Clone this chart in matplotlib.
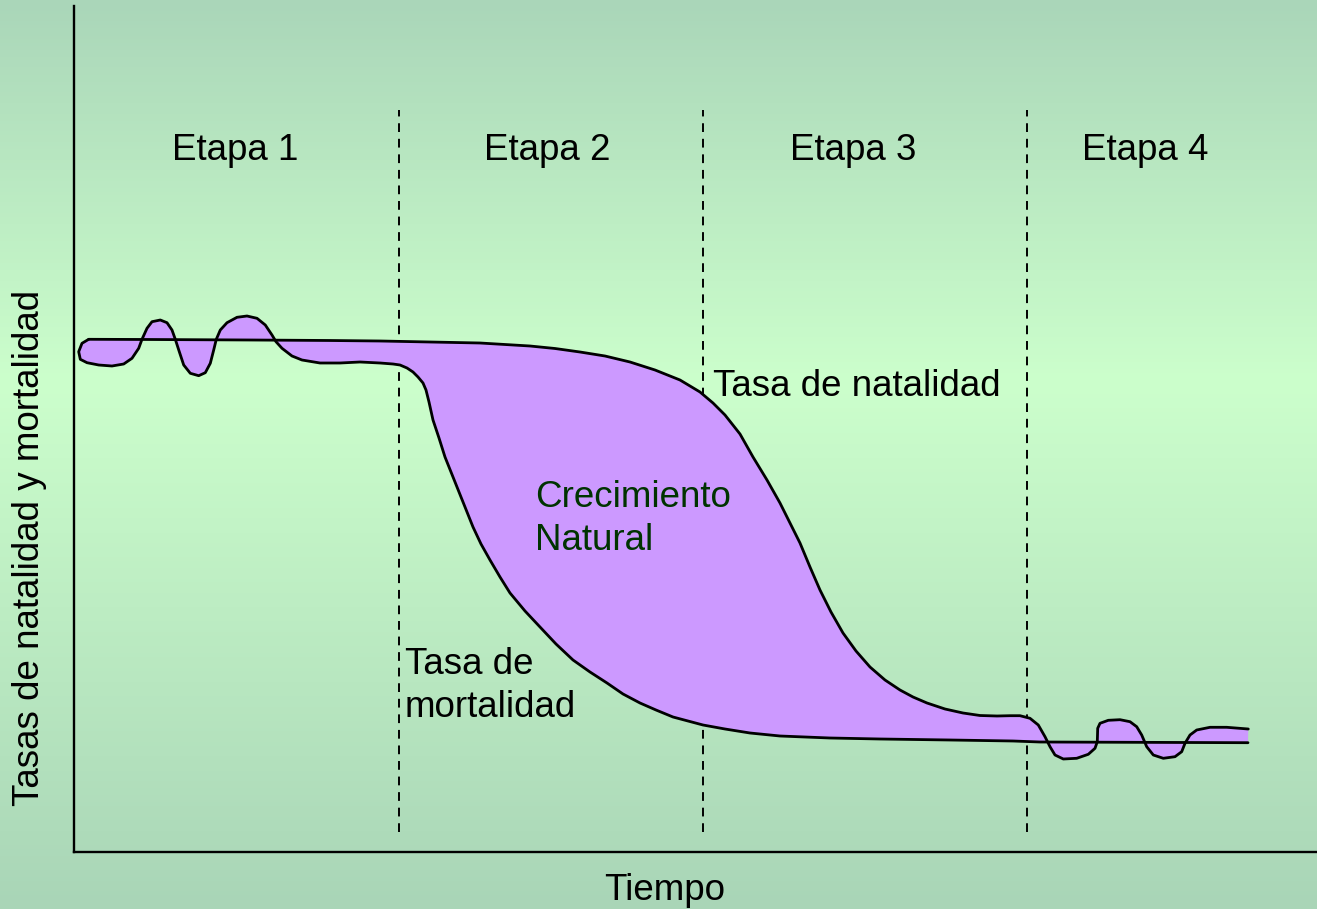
import numpy as np
import matplotlib
matplotlib.use("Agg")
import matplotlib.pyplot as plt
from matplotlib.colors import LinearSegmentedColormap

plt.rcParams['font.family'] = ['Liberation Sans', 'DejaVu Sans']

# curva de natalidad (tiempo, tasa)
natalidad_x = [14.7, 76, 176, 256, 306, 356, 406, 456, 481, 506, 531, 556, 581, 606, 626, 639,
               651, 666, 679, 693, 706, 716, 726, 736, 746, 757, 769, 782, 796, 811, 826, 839,
               853, 871, 889, 906, 923, 936, 946, 956, 964.3, 971, 976, 981, 989.3, 1002.7,
               1014.3, 1021, 1023.3, 1023.7, 1026, 1034.3, 1046, 1056, 1062.7, 1067.7, 1072.7,
               1079.3, 1089.3, 1101, 1107.7, 1111, 1116, 1122.7, 1136, 1152.7, 1174.3]
natalidad_y = [512.7, 512.5, 512, 511.5, 511, 510, 509, 506, 503.5, 500, 496, 490, 482, 472, 460, 449,
               437, 418, 395, 372, 349, 329, 309, 285, 262, 240, 219, 201, 185, 172, 162, 155,
               149, 143, 139, 136.5, 136, 136.3, 136.3, 133.7, 127, 115.3, 105.3, 97, 93, 93.7,
               97.7, 103.7, 110.3, 123.7, 128.7, 131.7, 132.3, 130.3, 125.3, 117, 105.3,
               97, 93.7, 95.3, 100.3, 108.7, 117, 122, 124.7, 124.7, 123]

# curva de mortalidad (tiempo, tasa)
mortalidad_x = [14.7, 8, 4.7, 6.3, 13, 24.7, 38, 49.7, 58, 64.7, 68, 73, 78, 86.3, 93, 98, 101.3,
                105.3, 109.7, 116.3, 124.7, 131.3, 136.3, 139.7, 142.3, 146.3, 153, 163, 173, 183,
                191.3, 198, 202, 208, 218, 228, 246, 266, 286, 306, 319, 326, 333, 339, 344, 349,
                352, 355, 359, 365, 371, 377, 383, 391, 399, 407, 416, 426, 436, 451, 466, 482,
                499, 516, 533, 549, 566, 582, 599, 614, 629, 651, 676, 706, 756, 806, 876, 939,
                966, 1174]
mortalidad_y = [512.7, 508.7, 500.3, 492.7, 489.3, 487, 486, 488, 493.7, 503.7, 512.7, 523.7, 530.3,
                532, 529.3, 522, 512.7, 500.3, 487, 478.7, 476.3, 479.3, 488.7, 502, 512.7, 522,
                529.3, 534.7, 536, 533.7, 527, 517, 510.3, 503.7, 496, 492, 489, 489, 490, 489,
                488, 487, 484, 480, 475, 469, 462, 450, 432, 414, 395, 380, 365, 345, 325, 308,
                292, 275, 259, 241, 225, 208, 192, 180, 169, 158, 149, 142, 135, 131, 127, 123,
                119, 116, 114, 113, 112, 111, 110, 109.3]

limites_etapas = [325, 629, 953]
etapas = ["Etapa 1", "Etapa 2", "Etapa 3", "Etapa 4"]
etapas_x = [161, 473, 779, 1071]

W, H = 1317, 909
fig = plt.figure(figsize=(W / 100, H / 100), dpi=100)

# fondo degradado
bg = fig.add_axes([0, 0, 1, 1])
cmap = LinearSegmentedColormap.from_list(
    "fondo", [(0, "#aad6b9"), (0.42, "#ccffcc"), (1, "#a9d5b7")])
grad = np.linspace(0, 1, 256).reshape(-1, 1)
bg.imshow(grad, aspect="auto", cmap=cmap, extent=[0, 1, 0, 1], origin="upper")
bg.axis("off")

ax = fig.add_axes([74 / W, (H - 852) / H, (W - 74) / W, (852 - 6) / H])
ax.patch.set_alpha(0)
ax.set_xlim(0, W - 74)
ax.set_ylim(0, 846)

poly_x = natalidad_x + mortalidad_x[::-1]
poly_y = natalidad_y + mortalidad_y[::-1]
ax.fill(poly_x, poly_y, color="#cc99ff", zorder=2, lw=0)
ax.plot(natalidad_x, natalidad_y, color="black", lw=2.0, zorder=3,
        solid_joinstyle="round", solid_capstyle="round")
ax.plot(mortalidad_x, mortalidad_y, color="black", lw=2.0, zorder=3,
        solid_joinstyle="round", solid_capstyle="round")

ax.vlines(limites_etapas, 20, 742, colors="black", lw=1.4, linestyles=(0, (4.5, 3.5)), zorder=1)

fs = 26.5
for nombre, x in zip(etapas, etapas_x):
    ax.text(x, 702, nombre, ha="center", va="center", fontsize=fs)

ax.text(639, 466, "Tasa de natalidad", ha="left", va="center", fontsize=fs, zorder=4)
ax.text(461, 333, "Crecimiento\nNatural", ha="left", va="center", fontsize=fs,
        color="#003300", zorder=4, linespacing=1.3)
ax.text(331, 166, "Tasa de\nmortalidad", ha="left", va="center", fontsize=fs, zorder=4,
        linespacing=1.3)

for s in ["top", "right"]:
    ax.spines[s].set_visible(False)
for s in ["left", "bottom"]:
    ax.spines[s].set_linewidth(1.7)
ax.set_xticks([])
ax.set_yticks([])

fig.text(665 / W, 1 - 890 / H, "Tiempo", ha="center", va="center", fontsize=fs)
fig.text(30 / W, 1 - 548 / H, "Tasas de natalidad y mortalidad", ha="center", va="center",
         rotation=90, fontsize=fs)

fig.savefig("out.png", dpi=100)
